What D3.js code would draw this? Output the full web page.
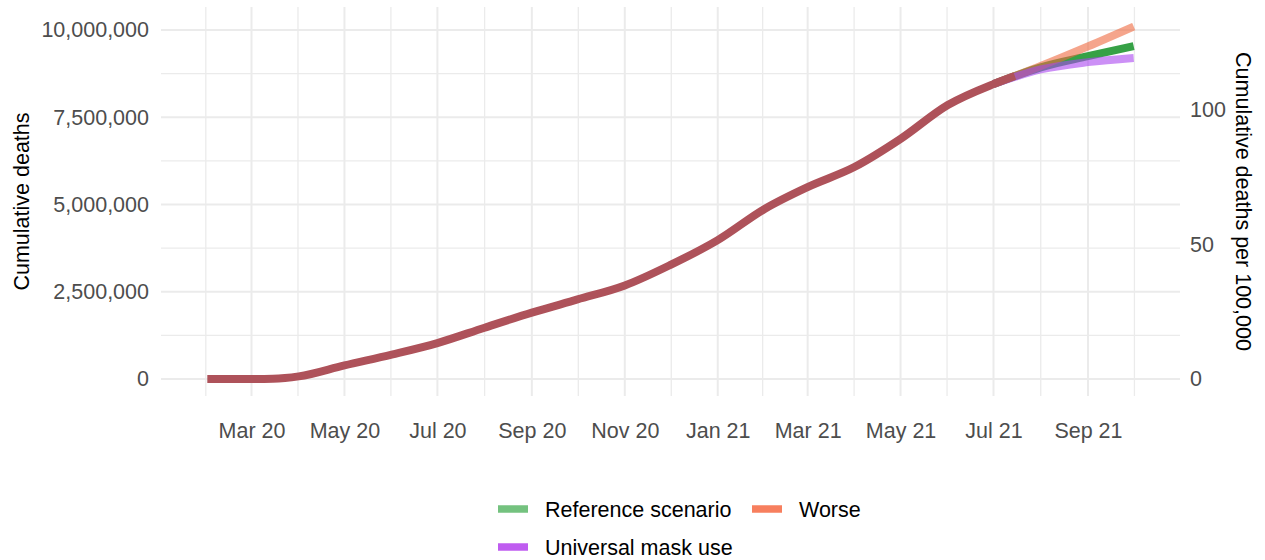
<!DOCTYPE html>
<html>
<head>
<meta charset="utf-8">
<script src="https://cdn.jsdelivr.net/npm/d3@7"></script>
<style>
  body { margin: 0; background: #fff; }
  text { font-family: "Liberation Sans", Arial, sans-serif; }
</style>
</head>
<body>
<div id="chart"></div>
<script>
// observed cumulative deaths (shared part of all scenarios)
var historyDates = ["2020-02-01", "2020-03-01", "2020-03-15", "2020-04-01", "2020-05-01", "2020-06-01",
    "2020-07-01", "2020-08-01", "2020-09-01", "2020-10-01", "2020-11-01", "2020-12-01",
    "2021-01-01", "2021-02-01", "2021-03-01", "2021-04-01", "2021-05-01", "2021-06-01",
    "2021-07-01", "2021-07-15"];
var historyDeaths = [0, 2000, 8000, 75000, 390000, 700000,
    1030000, 1470000, 1900000, 2280000, 2680000, 3270000,
    3980000, 4880000, 5500000, 6080000, 6880000, 7850000,
    8450000, 8680000];

// projections
var projDates = ["2021-07-01", "2021-08-01", "2021-09-01", "2021-10-01"];
var referenceDeaths = [8450000, 8930000, 9250000, 9540000];
var worseDeaths = [8450000, 8970000, 9530000, 10100000];
var maskDeaths = [8450000, 8870000, 9080000, 9200000];

var scenarioNames = ["Reference scenario", "Worse", "Universal mask use"];
var population = 7.708e9;

var leftTicks = [0, 2500000, 5000000, 7500000, 10000000];
var rightTicks = [0, 50, 100];

var W = 1265, H = 560;
var panel = { left: 161, right: 1180, top: 7, bottom: 396 };

var parse = d3.timeParse("%Y-%m-%d");
var hist = historyDates.map(function (d, i) { return { date: parse(d), value: historyDeaths[i] }; });
var scen = [
    { name: scenarioNames[0], values: referenceDeaths, line: "#36a146", op: 1, key: "#74c27f" },
    { name: scenarioNames[1], values: worseDeaths, line: "#ee693f", op: 0.6, key: "#f77f5e" },
    { name: scenarioNames[2], values: maskDeaths, line: "#aa46f0", op: 0.6, key: "#bf5cf0" }
];
scen.forEach(function (s) {
    s.points = projDates.map(function (d, i) { return { date: parse(d), value: s.values[i] }; });
});

var svg = d3.select("#chart").append("svg")
    .attr("width", W).attr("height", H);
svg.append("rect").attr("width", W).attr("height", H).attr("fill", "#fff");

// x scale with 5% expansion like ggplot
var d0 = hist[0].date, d1 = parse(projDates[projDates.length - 1]);
var pad = (d1 - d0) * 0.05;
var x = d3.scaleTime()
    .domain([new Date(+d0 - pad), new Date(+d1 + pad)])
    .range([panel.left, panel.right]);

var y = d3.scaleLinear().domain([0, 10000000]).range([379, 30]);
var yRight = d3.scaleLinear().domain([0, 10000000 / population * 1e5]).range([379, 30]);

// grid
var grid = svg.append("g");
var majorX = d3.timeMonth.range(new Date(2020, 0, 1), new Date(2021, 11, 2), 2);
var minorX = [];
for (var i = 0; i < majorX.length - 1; i++) {
    minorX.push(new Date((+majorX[i] + +majorX[i + 1]) / 2));
}
var inX = function (d) { return x(d) >= panel.left && x(d) <= panel.right; };
majorX = majorX.filter(inX);
minorX = minorX.filter(inX);

var minorY = [];
for (var v = -1250000; v < 12000000; v += 2500000) minorY.push(v);
minorY = minorY.filter(function (d) { return y(d) >= panel.top && y(d) <= panel.bottom; });

grid.selectAll(".mny").data(minorY).enter().append("line")
    .attr("x1", panel.left).attr("x2", panel.right)
    .attr("y1", function (d) { return y(d); }).attr("y2", function (d) { return y(d); })
    .attr("stroke", "#ebebeb").attr("stroke-width", 1.3);
grid.selectAll(".mnx").data(minorX).enter().append("line")
    .attr("y1", panel.top).attr("y2", panel.bottom)
    .attr("x1", function (d) { return x(d); }).attr("x2", function (d) { return x(d); })
    .attr("stroke", "#ebebeb").attr("stroke-width", 1.3);
grid.selectAll(".mjy").data(leftTicks).enter().append("line")
    .attr("x1", panel.left).attr("x2", panel.right)
    .attr("y1", function (d) { return y(d); }).attr("y2", function (d) { return y(d); })
    .attr("stroke", "#ebebeb").attr("stroke-width", 2);
grid.selectAll(".mjx").data(majorX).enter().append("line")
    .attr("y1", panel.top).attr("y2", panel.bottom)
    .attr("x1", function (d) { return x(d); }).attr("x2", function (d) { return x(d); })
    .attr("stroke", "#ebebeb").attr("stroke-width", 2);

// axes (no domain, no ticks)
var fmt = d3.timeFormat("%b %y");
var xAxis = svg.append("g")
    .attr("transform", "translate(0," + 397 + ")")
    .call(d3.axisBottom(x).tickValues(majorX).tickFormat(fmt).tickSize(0).tickPadding(26));
var yAxis = svg.append("g")
    .attr("transform", "translate(" + 149 + ",0)")
    .call(d3.axisLeft(y).tickValues(leftTicks).tickFormat(d3.format(",")).tickSize(0).tickPadding(0));
var yAxisR = svg.append("g")
    .attr("transform", "translate(" + 1190 + ",0)")
    .call(d3.axisRight(yRight).tickValues(rightTicks).tickSize(0).tickPadding(0));
[xAxis, yAxis, yAxisR].forEach(function (a) {
    a.select(".domain").remove();
    a.selectAll("text")
        .style("font-family", "'Liberation Sans', Arial, sans-serif")
        .style("font-size", "21.5px")
        .attr("fill", "#4d4d4d");
});

// axis titles
svg.append("text")
    .attr("transform", "translate(29,201.5) rotate(-90)")
    .attr("text-anchor", "middle")
    .style("font-size", "21.5px")
    .text("Cumulative deaths");
svg.append("text")
    .attr("transform", "translate(1236,201.5) rotate(90)")
    .attr("text-anchor", "middle")
    .style("font-size", "21.5px")
    .text("Cumulative deaths per 100,000");

// lines
var line = d3.line()
    .x(function (d) { return x(d.date); })
    .y(function (d) { return y(d.value); })
    .curve(d3.curveMonotoneX);

svg.selectAll(".scen").data(scen).enter().append("path")
    .attr("d", function (d) { return line(d.points); })
    .attr("fill", "none")
    .attr("stroke", function (d) { return d.line; })
    .attr("stroke-opacity", function (d) { return d.op; })
    .attr("stroke-width", 8);

svg.append("path")
    .attr("d", line(hist))
    .attr("fill", "none")
    .attr("stroke", "#ae525a")
    .attr("stroke-width", 8);

// legend
var legendPos = [[498, 509], [752, 509], [498, 547]];
var lg = svg.selectAll(".lg").data(scen).enter().append("g")
    .attr("transform", function (d, i) { return "translate(" + legendPos[i][0] + "," + legendPos[i][1] + ")"; });
lg.append("line")
    .attr("x1", 0).attr("x2", 30)
    .attr("stroke", function (d) { return d.key; })
    .attr("stroke-width", 7.5);
lg.append("text")
    .attr("x", 47).attr("y", 8)
    .style("font-size", "21.5px")
    .text(function (d) { return d.name; });
</script>
</body>
</html>
